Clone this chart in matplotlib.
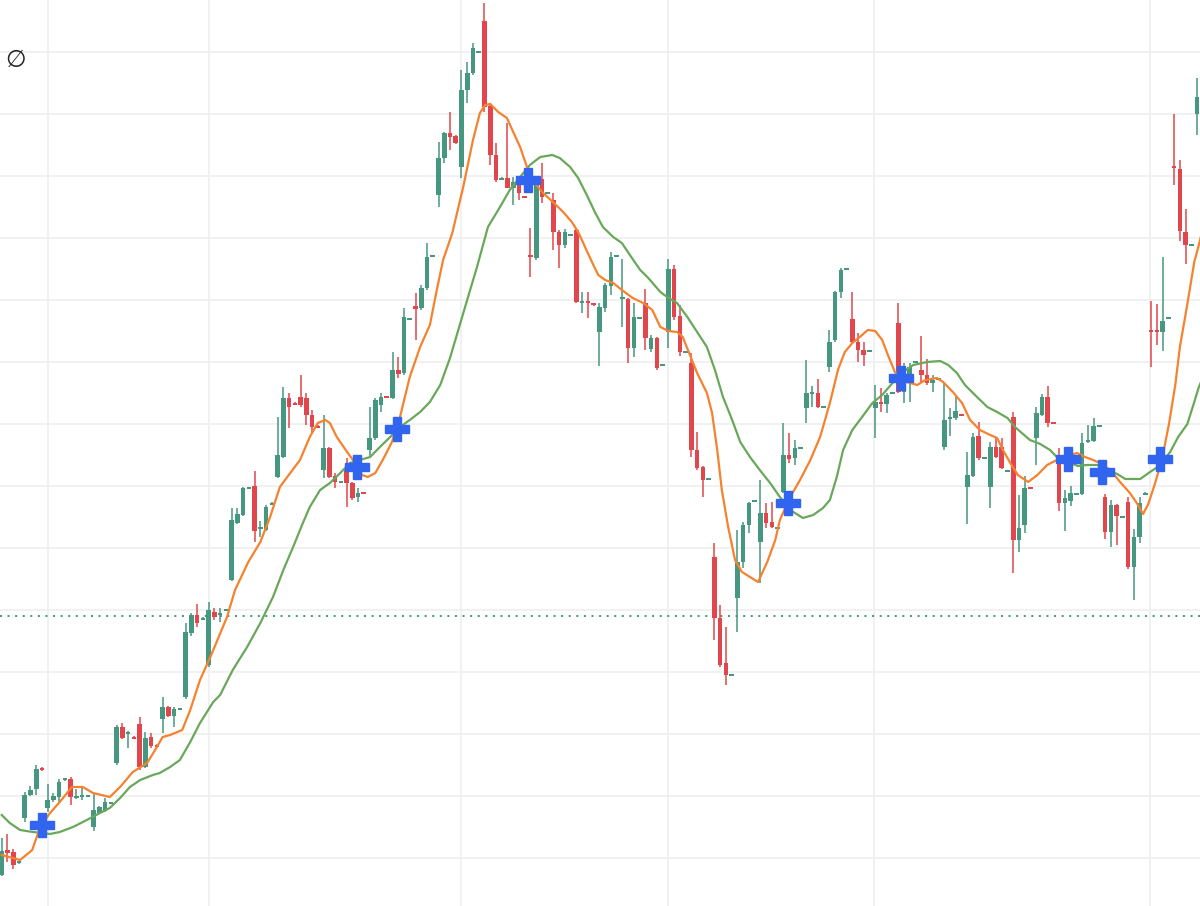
import numpy as np
import matplotlib
matplotlib.use("Agg")
import matplotlib.pyplot as plt

# candle data (arbitrary price units, one bar per session)
opens = [31, 56, 54, 43, 88, 111, 117, 138, 98, 106, 109, 126, 127, 108, 109, 109, 79, 93, 95, 102,
         143, 179, 172, 169, 182, 139, 169, 161, 187, 199, 190, 196, 209, 273, 291, 286, 241, 294, 291, 295,
         326, 383, 391, 417, 420, 377, 376, 401, 429, 449, 508, 503, 509, 508, 491, 480, 436, 458, 430, 423,
         437, 423, 409, 414, 456, 468, 501, 510, 508, 536, 533, 586, 600, 598, 618, 649, 711, 748, 773, 770,
         739, 816, 833, 853, 885, 800, 751, 726, 728, 718, 724, 710, 651, 648, 727, 712, 706, 674, 661, 670,
         676, 603, 605, 602, 574, 598, 620, 649, 607, 607, 558, 587, 603, 557, 568, 540, 574, 637, 590, 553,
         543, 456, 439, 426, 349, 288, 243, 230, 308, 344, 381, 404, 364, 393, 384, 377, 414, 451, 448, 457,
         498, 512, 513, 498, 539, 566, 614, 636, 587, 564, 556, 554, 498, 504, 502, 512, 583, 514, 524, 543,
         536, 531, 523, 526, 459, 487, 488, 492, 419, 430, 470, 447, 419, 459, 459, 434, 489, 366, 381, 419,
         468, 491, 509, 484, 447, 403, 405, 411, 412, 464, 465, 479, 409, 374, 401, 388, 404, 339, 369, 411,
         576, 576, 574, 587, 740, 737, 674, 660, 792, 806]
highs = [68, 72, 57, 45, 114, 120, 141, 139, 122, 113, 127, 128, 129, 117, 118, 111, 113, 100, 108, 104,
         181, 183, 175, 170, 189, 174, 173, 162, 209, 200, 199, 198, 283, 293, 302, 289, 304, 298, 298, 297,
         398, 398, 419, 419, 435, 385, 401, 404, 489, 519, 513, 504, 531, 513, 496, 481, 491, 459, 433, 425,
         448, 424, 418, 414, 499, 508, 513, 510, 554, 549, 598, 588, 613, 621, 663, 651, 764, 774, 794, 771,
         836, 844, 863, 855, 903, 803, 763, 729, 783, 729, 728, 710, 678, 728, 743, 714, 713, 676, 677, 672,
         678, 614, 614, 603, 603, 623, 654, 651, 647, 608, 603, 589, 617, 571, 569, 542, 647, 641, 601, 555,
         553, 474, 440, 428, 363, 301, 279, 232, 376, 384, 404, 406, 426, 403, 404, 379, 483, 473, 466, 459,
         546, 520, 527, 500, 576, 615, 638, 638, 614, 573, 564, 556, 521, 518, 513, 514, 603, 543, 543, 545,
         570, 547, 531, 528, 523, 498, 509, 492, 454, 473, 484, 449, 464, 468, 468, 436, 494, 411, 430, 419,
         499, 512, 520, 484, 458, 416, 420, 413, 473, 481, 488, 481, 412, 406, 402, 390, 409, 377, 409, 414,
         605, 602, 649, 589, 792, 746, 697, 662, 828, 811]
lows = [30, 44, 37, 42, 84, 110, 111, 135, 94, 104, 104, 125, 101, 107, 106, 109, 75, 92, 94, 102,
        141, 167, 158, 167, 136, 138, 158, 159, 173, 189, 179, 196, 207, 270, 279, 286, 239, 286, 284, 295,
        325, 382, 390, 417, 364, 369, 375, 401, 428, 448, 478, 501, 499, 481, 473, 478, 428, 428, 418, 423,
        399, 406, 404, 412, 449, 466, 494, 508, 507, 528, 531, 586, 566, 596, 616, 649, 699, 743, 756, 762,
        728, 803, 831, 853, 794, 741, 724, 726, 718, 701, 706, 708, 629, 646, 703, 712, 656, 638, 658, 670,
        603, 593, 588, 600, 540, 594, 611, 649, 579, 543, 549, 587, 556, 554, 536, 540, 558, 586, 550, 553,
        449, 436, 409, 426, 266, 239, 221, 230, 274, 338, 373, 404, 323, 378, 378, 377, 413, 443, 441, 457,
        483, 499, 498, 498, 534, 564, 608, 636, 563, 544, 540, 554, 468, 494, 493, 512, 513, 503, 504, 543,
        523, 521, 514, 526, 456, 470, 486, 490, 382, 429, 446, 447, 398, 448, 437, 434, 333, 354, 373, 417,
        441, 490, 479, 482, 395, 375, 400, 411, 411, 463, 464, 479, 367, 359, 361, 388, 337, 306, 363, 411,
        539, 561, 555, 587, 721, 665, 642, 660, 771, 794]
closes = [55, 53, 41, 44, 111, 116, 137, 136, 106, 110, 124, 127, 109, 109, 110, 110, 96, 99, 104, 103,
          179, 168, 174, 167, 139, 168, 160, 159, 199, 190, 197, 197, 274, 291, 283, 288, 296, 289, 293, 296,
          386, 392, 418, 418, 375, 379, 399, 403, 451, 508, 499, 501, 501, 491, 479, 478, 458, 429, 424, 424,
          423, 408, 413, 412, 468, 506, 509, 508, 536, 532, 589, 587, 597, 618, 649, 650, 748, 773, 769, 763,
          816, 833, 858, 854, 799, 751, 726, 728, 718, 724, 713, 708, 649, 726, 709, 713, 674, 661, 674, 671,
          604, 604, 603, 601, 599, 621, 649, 650, 608, 558, 589, 588, 568, 568, 538, 541, 637, 589, 554, 554,
          456, 438, 426, 427, 288, 241, 231, 231, 344, 381, 403, 405, 393, 383, 379, 378, 451, 447, 458, 458,
          513, 513, 499, 499, 564, 614, 636, 637, 564, 556, 551, 555, 504, 502, 511, 513, 514, 537, 539, 544,
          531, 523, 526, 527, 486, 489, 495, 490, 431, 469, 448, 448, 459, 449, 438, 435, 366, 378, 418, 417,
          493, 509, 483, 482, 403, 408, 413, 412, 463, 466, 480, 480, 374, 401, 390, 389, 339, 369, 403, 413,
          574, 574, 585, 588, 738, 675, 661, 661, 809, 796]

# fast average (orange): bar position, value
fast_pos = [0, 3.2, 5.3, 6.7, 8.4, 10.1, 12.2, 14.1, 15.9, 18.8, 20.6, 22.8, 25.3, 27, 28, 29.3, 31.4,
            32.8, 34.5, 36.3, 39.2, 40.6, 42.9, 45, 46.7, 48.4, 50.2, 51.9, 53.6, 55, 56.3, 57.1, 58.3,
            60.1, 61.5, 62.7, 63.7, 65, 66.3, 67.9, 69.3, 71, 72.8, 74.5, 75.7, 76.8, 78.4, 80.3, 82,
            83.2, 84.1, 85, 86.4, 87.9, 89, 90.2, 91.4, 92.3, 94.2, 95.9, 97.7, 99.2, 100.3, 101.5,
            102.7, 103.8, 105, 106.4, 107.9, 109.8, 111.6, 113.2, 114.6, 116, 117.5, 118.5, 119.4, 121,
            122.7, 123.6, 124.5, 125.3, 126.4, 127.6, 128.8, 130.2, 131.6, 133.2, 134.6, 135.4, 137.2,
            138.9, 140.7, 142.4, 144.1, 145.5, 146.7, 148, 149.3, 150.7, 152, 153.2, 154.2, 155.4,
            157.5, 159.3, 160.7, 162.7, 163.8, 165.5, 167.1, 168.5, 170.2, 172, 173.2, 174.2, 175.5,
            176.8, 178.6, 180.2, 181.9, 183.6, 185.4, 187.1, 188.5, 189.9, 191.1, 192.9, 194.6, 196.3,
            197.5, 198.6, 199.5, 200.7, 201.9, 203.1, 204.2, 205, 206.3, 207.5, 208.3, 209.2]
fast_val = [51, 46, 56, 79, 93, 104, 119, 119, 113, 109, 119, 134, 143, 159, 169, 171, 176,
            196, 226, 249, 289, 316, 344, 364, 389, 419, 433, 446, 469, 483, 486, 483, 469,
            454, 443, 431, 429, 433, 446, 464, 489, 529, 559, 581, 616, 646, 673, 719, 766,
            793, 801, 802, 794, 788, 774, 759, 739, 726, 713, 704, 694, 684, 674, 659,
            644, 631, 626, 623, 616, 608, 603, 596, 579, 575, 574, 569, 556, 533,
            513, 493, 456, 416, 379, 346, 334, 329, 324, 344, 366, 386, 409,
            426, 446, 469, 503, 536, 554, 563, 569, 576, 575, 566, 551, 534,
            524, 521, 526, 528, 524, 514, 503, 486, 476, 471, 468, 456, 443,
            431, 424, 431, 441, 446, 450, 453, 449, 446, 443, 436, 424, 413,
            403, 392, 402, 423, 447, 482, 521, 559, 602, 644, 661, 682]

# slow average (green)
slow_pos = [0, 1.4, 3.2, 5.4, 7.2, 8.4, 10.1, 12.4, 14.8, 17.1, 18.8, 20.6, 22.3, 24.1, 26.3, 27.5,
            29.3, 31, 32.8, 34.5, 36.8, 38, 40.2, 42.7, 45, 47.2, 49, 50.7, 52.4, 53.6, 55.4, 57.1,
            58.9, 60.6, 62.3, 64.1, 65.8, 67.6, 69.3, 71, 72.8, 74.5, 76.3, 78, 79.7, 81.5, 82.7,
            84.6, 86.7, 88.4, 90.2, 91.9, 93.7, 95.8, 97.1, 98.9, 100.3, 101.8, 103.2, 104.6, 106.4,
            107.9, 109.3, 111.1, 112.5, 113.7, 114.6, 115.8, 117.5, 119.3, 121, 122.7, 124.1, 125.5,
            127.1, 128.5, 130.2, 131.9, 133.7, 135.4, 137.2, 139.4, 141.2, 142.9, 144.1, 145.3, 146.4,
            148, 149.7, 151.5, 153.2, 155, 156.8, 158.6, 161, 163.3, 164.7, 166.2, 167.6, 169.7, 171.5,
            173.2, 175, 176.3, 178.9, 180.7, 182.4, 184.1, 185.9, 187.3, 188.8, 190.6, 192.3, 194.1,
            195.5, 196.9, 198.1, 199.8, 201.4, 203.3, 204.7, 206.3, 207.5, 208.3, 209.2]
slow_val = [91, 83, 76, 74, 73, 72, 74, 79, 86, 93, 98, 108, 119, 126, 131, 133,
            139, 146, 164, 183, 204, 211, 236, 259, 283, 309, 336, 359, 383, 399, 416, 423,
            433, 443, 446, 449, 459, 469, 479, 486, 494, 504, 521, 548, 581, 616, 639,
            679, 699, 716, 729, 741, 749, 751, 748, 739, 728, 711, 694, 679, 669,
            663, 651, 636, 628, 620, 614, 609, 603, 589, 574, 559, 536, 509,
            486, 464, 449, 436, 423, 409, 396, 388, 391, 398, 406, 429, 456,
            476, 489, 503, 511, 523, 534, 541, 544, 545, 541, 533, 521, 509, 499,
            494, 488, 479, 466, 462, 456, 446, 443, 440, 441, 441, 436, 432,
            427, 427, 427, 434, 440, 454, 469, 482, 504, 519, 531]

# crossover signals
signal_pos = [7.0, 61.8, 68.8, 91.6, 136.8, 156.5, 185.5, 191.5, 201.5]
signal_val = [81, 439, 477, 726, 403, 528, 447, 434, 447]

ref_level = 290.5
date_breaks = [8.0, 36.0, 79.9, 115.9, 151.8, 199.8]

UP = "#46977f"
DOWN = "#e1464c"


def main():
    o = np.array(opens, float)
    h = np.array(highs, float)
    l = np.array(lows, float)
    c = np.array(closes, float)
    x = np.arange(len(o))

    fig = plt.figure(figsize=(12, 9.06), dpi=100)
    ax = fig.add_axes([0, 0, 1, 1])
    ax.set_xlim(-0.3, 208.5)
    ax.set_ylim(0, 906)
    ax.axis("off")

    # grid
    for gy in np.arange(48, 906, 62):
        ax.axhline(gy, color="#efefef", lw=1.2, zorder=0)
    for gx in date_breaks:
        ax.axvline(gx, color="#efefef", lw=1.2, zorder=0)

    ax.axhline(ref_level, color="#3d9680", lw=1.4, ls=(0, (1, 2.9)), zorder=1)

    colors = np.where(c >= o, UP, DOWN)
    ax.vlines(x, l, h, colors=colors, lw=1.1, zorder=2)
    body = np.maximum(np.abs(c - o), 2.0)
    ax.bar(x, body, bottom=np.minimum(o, c), width=0.8, color=colors, lw=0, zorder=3)

    ax.plot(slow_pos, slow_val, color="#69a85b", lw=1.6, zorder=4)
    ax.plot(fast_pos, fast_val, color="#f5822e", lw=1.6, zorder=4)

    ax.plot(signal_pos, signal_val, ls="none", marker="P", ms=17,
            color="#3265ef", mec="#3265ef", zorder=5)

    fig.text(16 / 1200, 1 - 60 / 906, "\u2205", fontsize=17, color="#222222",
             ha="center", va="center")

    fig.savefig("out.png", dpi=100)


if __name__ == "__main__":
    main()
